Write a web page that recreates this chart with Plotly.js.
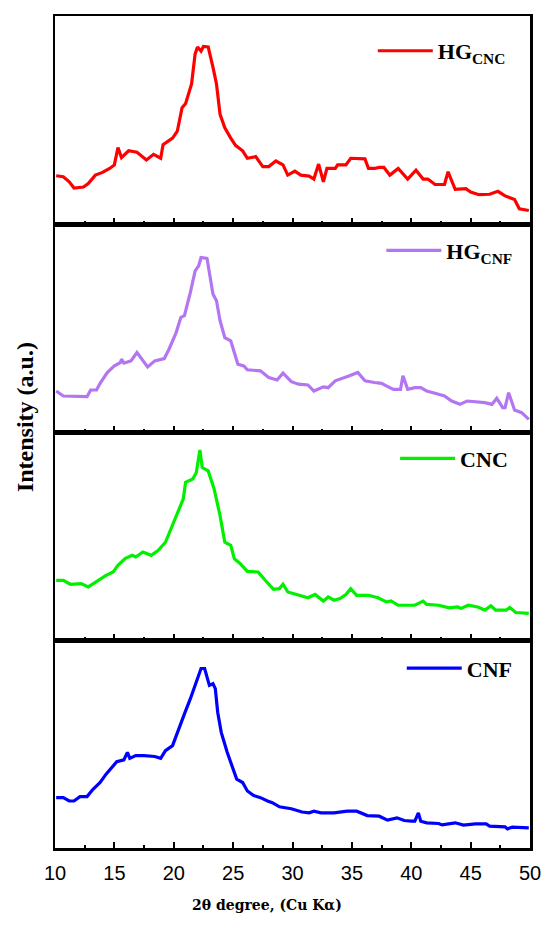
<!DOCTYPE html>
<html>
<head>
<meta charset="utf-8">
<script src="https://cdn.plot.ly/plotly-3.0.1.min.js"></script>
<style>html,body{margin:0;padding:0;background:#fff;}#chart{width:550px;height:925px;}</style>
</head>
<body>
<div id="chart"></div>
<script>
// 2θ positions (degrees) and relative intensities (a.u., 0-100 within each panel)
var hgcncX = [10.1,10.7,11.2,11.6,12.4,12.8,13.4,14.0,14.6,15.0,15.3,15.6,16.2,16.9,17.7,18.3,18.9,19.1,19.9,20.3,20.7,21.0,21.5,21.8,22.0,22.3,22.5,22.9,23.3,23.6,23.9,24.3,24.8,25.2,25.8,26.2,26.9,27.5,28.0,28.6,29.2,29.6,30.2,30.7,31.4,31.8,32.2,32.6,32.9,33.6,33.8,34.5,34.9,35.5,36.1,36.4,36.9,37.3,37.7,38.2,38.9,39.7,40.4,41.0,41.4,42.0,42.8,43.1,43.7,44.6,45.0,45.7,46.6,47.3,47.9,48.7,49.1,49.9];
var hgcncY = [23.2,22.7,20.3,17.3,17.8,19.4,23.5,24.8,26.7,28.4,36.8,31.9,35.2,34.5,30.8,33.5,31.6,38.1,41.3,44.6,55.9,57.9,67.3,81.8,85.1,83.1,85.4,85.1,75.4,67.3,52.7,46.2,41.3,37.8,35.2,31.6,32.4,27.6,27.6,30.3,28.4,23.5,25.4,23.5,23.0,21.6,28.8,20.3,26.7,26.7,28.4,28.4,31.6,31.3,31.3,26.7,26.7,27.2,27.2,23.5,26.7,21.6,25.9,21.6,21.6,19.0,19.0,25.1,16.7,17.0,15.4,14.1,14.3,15.7,13.5,11.8,7.3,6.5];

var hgcnfX = [10.1,10.7,12.7,13.0,13.5,13.8,14.4,15.0,15.5,15.6,15.8,16.4,16.9,17.4,17.8,18.4,19.2,19.6,20.2,20.6,20.9,21.4,21.8,22.1,22.3,22.8,23.3,23.6,23.9,24.3,24.8,25.1,25.4,25.9,26.2,27.3,28.0,28.7,29.2,29.9,30.5,31.3,31.8,32.6,33.0,33.6,34.2,34.8,35.5,36.1,36.9,37.5,37.9,38.5,39.1,39.3,39.7,40.3,40.8,41.3,42.0,42.8,43.4,44.1,44.7,45.4,46.2,46.8,47.2,47.7,47.9,48.2,48.7,49.3,49.9];
var hgcnfY = [19.7,17.3,17.0,20.2,20.2,23.4,28.6,31.8,33.4,35.0,33.1,34.2,38.2,34.2,31.3,34.2,35.3,39.8,47.8,55.1,55.9,67.1,77.5,79.9,83.9,83.5,66.3,63.1,53.5,45.4,43.8,38.2,32.6,31.8,29.9,29.4,26.2,25.0,28.3,24.2,23.0,22.6,19.7,21.7,21.3,24.6,25.7,27.0,28.6,24.6,23.8,23.4,22.2,20.5,20.5,27.0,20.5,21.3,21.3,19.7,18.6,17.3,14.9,13.3,14.9,14.6,14.1,13.3,16.2,11.7,11.7,18.9,10.6,9.3,6.1];

var cncX = [10.1,10.7,11.3,12.2,12.8,13.5,14.3,14.9,15.3,15.9,16.5,16.8,17.4,18.1,18.7,19.3,19.9,20.5,20.8,21.0,21.6,21.9,22.2,22.4,22.9,23.4,23.9,24.3,24.8,25.1,25.6,26.2,27.1,27.7,28.4,28.9,29.2,29.6,30.5,31.3,31.9,32.6,33.0,33.5,34.0,34.5,34.9,35.4,36.4,37.2,37.9,38.3,38.9,40.3,41.0,41.3,42.3,43.2,43.9,44.2,44.8,45.6,46.2,46.7,47.1,48.0,48.3,48.8,49.9];
var cncY = [28.7,28.7,26.8,27.1,25.5,28.2,31.1,32.7,35.9,39.1,40.7,39.9,42.3,40.7,43.1,47.0,55.0,63.0,67.8,75.8,77.4,80.5,91.4,82.9,81.3,72.6,59.8,47.0,45.5,39.1,36.7,33.0,32.7,28.7,24.4,24.7,26.8,23.1,21.5,20.3,21.9,18.7,20.7,19.1,19.9,21.9,24.7,21.5,21.5,20.3,18.3,18.8,16.7,16.7,18.7,17.1,16.7,15.5,15.9,15.2,16.7,15.9,14.4,16.4,14.4,14.4,15.6,13.2,12.8];

var cnfX = [10.1,10.7,11.2,11.6,12.1,12.7,13.2,13.8,14.3,14.9,15.2,15.8,16.1,16.3,16.8,17.5,18.4,18.9,19.3,19.9,20.3,20.9,21.4,21.8,22.1,22.3,22.6,23.0,23.3,23.5,23.7,24.0,24.5,24.9,25.3,25.8,26.2,26.7,27.3,27.9,28.3,28.9,29.9,30.8,31.4,31.8,32.4,33.5,34.6,35.4,36.3,37.3,38.0,38.8,39.4,40.0,40.3,40.6,40.8,41.3,42.3,42.6,43.7,44.4,45.4,46.3,46.6,47.9,48.1,48.5,49.9];
var cnfY = [24.2,24.2,22.6,22.6,24.7,24.7,28.2,31.5,35.5,39.5,41.5,42.4,46.0,43.1,44.4,44.4,44.0,43.1,46.8,49.2,55.6,64.5,71.8,78.2,82.3,86.3,86.3,78.2,79.0,76.6,65.3,55.6,46.0,39.5,33.1,31.5,27.4,25.3,24.2,22.6,21.8,19.8,18.9,17.3,16.9,17.7,16.9,16.9,17.7,17.7,15.6,15.3,13.4,14.5,13.2,12.9,12.9,16.9,12.9,12.1,11.8,11.1,12.1,11.0,11.6,11.6,10.5,10.2,9.2,10.0,9.7];

var seriesNames = ['HG<sub>CNC</sub>', 'HG<sub>CNF</sub>', 'CNC', 'CNF'];
var seriesColors = ['#ff0000', '#b376f0', '#00f000', '#0000ff'];
var xTickVals = [10,15,20,25,30,35,40,45,50];
var xMinorVals = [12.5,17.5,22.5,27.5,32.5,37.5,42.5,47.5];

var legendFont = {family: 'Liberation Serif, Times New Roman, serif', size: 22, color: '#000', weight: 'bold'};

var traces = [
  {x: hgcncX, y: hgcncY, xaxis: 'x4', yaxis: 'y4', legend: 'legend', name: seriesNames[0]},
  {x: hgcnfX, y: hgcnfY, xaxis: 'x3', yaxis: 'y3', legend: 'legend2', name: seriesNames[1]},
  {x: cncX, y: cncY, xaxis: 'x2', yaxis: 'y2', legend: 'legend3', name: seriesNames[2]},
  {x: cnfX, y: cnfY, xaxis: 'x', yaxis: 'y', legend: 'legend4', name: seriesNames[3]}
].map(function(t, i){
  t.type = 'scatter'; t.mode = 'lines';
  t.line = {color: seriesColors[i], width: 3.2};
  t.showlegend = true;
  return t;
});

function xa(showLabels, anchor){
  return {
    range: [10, 50], anchor: anchor, showline: true, mirror: true, linecolor: '#000', linewidth: 2.5,
    ticks: 'inside', ticklen: 6, tickwidth: 2, tickcolor: '#000', tickmode: 'array', tickvals: xTickVals,
    minor: {ticks: 'inside', tickmode: 'array', tickvals: xMinorVals, ticklen: 3, tickwidth: 2, tickcolor: '#000'},
    showgrid: false, zeroline: false, showticklabels: showLabels,
    ticklabelstandoff: 5,
    tickfont: {family: 'Liberation Sans, Arial, sans-serif', size: 20, color: '#000'}
  };
}
function ya(dom, anchor){
  return {domain: dom, anchor: anchor, range: [0, 100], showline: true, mirror: true, linecolor: '#000', linewidth: 2.5,
    ticks: '', showticklabels: false, showgrid: false, zeroline: false, fixedrange: true};
}
function lg(x, y){
  return {x: x, y: y, xanchor: 'left', yanchor: 'middle', bgcolor: 'rgba(0,0,0,0)', borderwidth: 0,
    font: legendFont, itemwidth: 55, tracegroupgap: 0};
}

var layout = {
  width: 550, height: 925,
  margin: {l: 55, r: 19.5, t: 16, b: 77, pad: 0},
  paper_bgcolor: '#fff', plot_bgcolor: '#fff',
  xaxis: xa(true, 'y'), xaxis2: xa(false, 'y2'), xaxis3: xa(false, 'y3'), xaxis4: xa(false, 'y4'),
  yaxis: ya([0, 0.25], 'x'), yaxis2: ya([0.25, 0.5], 'x2'), yaxis3: ya([0.5, 0.75], 'x3'), yaxis4: ya([0.75, 1], 'x4'),
  legend: lg(0.669, 0.958), legend2: lg(0.687, 0.718), legend3: lg(0.716, 0.468), legend4: lg(0.730, 0.216),
  annotations: [
    {text: '<b>Intensity (a.u.)</b>', xref: 'paper', yref: 'paper', x: -0.063, y: 0.518, textangle: -90,
     showarrow: false, xanchor: 'center', yanchor: 'middle',
     font: {family: 'Liberation Serif, Times New Roman, serif', size: 24, color: '#000'}},
    {text: '<b>2θ degree, (Cu Kα)</b>', xref: 'paper', yref: 'paper', x: 0.447, y: -0.068,
     showarrow: false, xanchor: 'center', yanchor: 'middle',
     font: {family: 'DejaVu Serif, serif', size: 14, color: '#000'}}
  ]
};

Plotly.newPlot('chart', traces, layout, {displayModeBar: false, staticPlot: true});
</script>
</body>
</html>
